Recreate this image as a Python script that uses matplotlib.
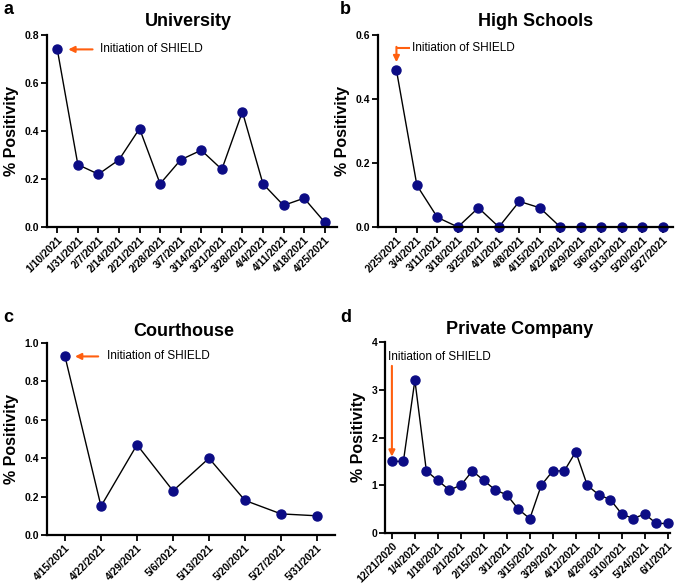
import numpy as np
import matplotlib
matplotlib.use("Agg")
import matplotlib.pyplot as plt

plt.rcParams['font.family'] = ['Liberation Sans', 'DejaVu Sans']

# data
univ_dates = ['1/10/2021', '1/31/2021', '2/7/2021', '2/14/2021', '2/21/2021', '2/28/2021',
              '3/7/2021', '3/14/2021', '3/21/2021', '3/28/2021', '4/4/2021', '4/11/2021',
              '4/18/2021', '4/25/2021']
univ_vals = [0.74, 0.26, 0.22, 0.28, 0.41, 0.18, 0.28, 0.32, 0.24, 0.48, 0.18, 0.09, 0.12, 0.02]

hs_dates = ['2/25/2021', '3/4/2021', '3/11/2021', '3/18/2021', '3/25/2021', '4/1/2021',
            '4/8/2021', '4/15/2021', '4/22/2021', '4/29/2021', '5/6/2021', '5/13/2021',
            '5/20/2021', '5/27/2021']
hs_vals = [0.49, 0.13, 0.03, 0.0, 0.06, 0.0, 0.08, 0.06, 0.0, 0.0, 0.0, 0.0, 0.0, 0.0]

court_dates = ['4/15/2021', '4/22/2021', '4/29/2021', '5/6/2021', '5/13/2021',
               '5/20/2021', '5/27/2021', '5/31/2021']
court_vals = [0.93, 0.15, 0.47, 0.23, 0.40, 0.18, 0.11, 0.10]

priv_labels = ['12/21/2020', '1/4/2021', '1/18/2021', '2/1/2021', '2/15/2021', '3/1/2021',
               '3/15/2021', '3/29/2021', '4/12/2021', '4/26/2021', '5/10/2021', '5/24/2021',
               '6/1/2021']
priv_vals = [1.5, 1.5, 3.2, 1.3, 1.1, 0.9, 1.0, 1.3, 1.1, 0.9, 0.8, 0.5, 0.3,
             1.0, 1.3, 1.3, 1.7, 1.0, 0.8, 0.7, 0.4, 0.3, 0.4, 0.2, 0.2]

W, H = 675, 585
fig = plt.figure(figsize=(W / 100, H / 100), dpi=100)

NAVY = '#0c0c85'
ORANGE = '#ff5f0f'


def make_ax(l, t, r, b):
    # pixel box -> figure fraction
    return fig.add_axes([l / W, 1 - b / H, (r - l) / W, (b - t) / H])


def style(ax, ymax, ystep, xlim, fmt='%.1f'):
    for s in ['top', 'right']:
        ax.spines[s].set_visible(False)
    for s in ['left', 'bottom']:
        ax.spines[s].set_linewidth(1.6)
    ax.set_xlim(*xlim)
    ax.set_ylim(0, ymax)
    ax.set_yticks(np.arange(0, ymax + ystep / 2, ystep))
    ax.yaxis.set_major_formatter(matplotlib.ticker.FormatStrFormatter(fmt))
    ax.tick_params(axis='both', direction='out', length=4, width=1.3, pad=1.5)
    for lab in ax.get_yticklabels():
        lab.set_fontweight('bold')
        lab.set_fontsize(7.5)
    ax.set_ylabel('% Positivity', fontsize=11.5, fontweight='bold', labelpad=4)


def xlabels(ax, pos, labels):
    ax.set_xticks(pos)
    ax.set_xticklabels(labels, rotation=45, ha='right', rotation_mode='anchor',
                       fontsize=7.5, fontweight='bold')


def series(ax, vals):
    ax.plot(np.arange(len(vals)), vals, color='black', lw=1.0, zorder=2,
            marker='o', ms=6.5, mfc=NAVY, mec=NAVY, clip_on=False)


# a - University
ax = make_ax(47, 35, 337, 227)
series(ax, univ_vals)
style(ax, 0.8, 0.2, (-0.5, 13.6))
xlabels(ax, np.arange(len(univ_dates)), univ_dates)
ax.annotate('', xy=(0.4, 0.74), xytext=(1.85, 0.74),
            arrowprops=dict(arrowstyle='-|>', color=ORANGE, lw=1.5, mutation_scale=9))
ax.text(2.1, 0.74, 'Initiation of SHIELD', fontsize=8.5, va='center', ha='left')

# b - High Schools
ax = make_ax(378, 35, 673, 227)
series(ax, hs_vals)
style(ax, 0.6, 0.2, (-0.9, 13.5))
xlabels(ax, np.arange(len(hs_dates)), hs_dates)
ax.plot([0.65, 0.0], [0.56, 0.56], color=ORANGE, lw=1.5, solid_capstyle='butt')
ax.annotate('', xy=(0.0, 0.515), xytext=(0.0, 0.563),
            arrowprops=dict(arrowstyle='-|>', color=ORANGE, lw=1.5, mutation_scale=9,
                            shrinkA=0, shrinkB=0))
ax.text(0.78, 0.56, 'Initiation of SHIELD', fontsize=8.5, va='center', ha='left')

# c - Courthouse
ax = make_ax(47, 343, 335, 535)
series(ax, court_vals)
style(ax, 1.0, 0.2, (-0.5, 7.5))
xlabels(ax, np.arange(len(court_dates)), court_dates)
ax.annotate('', xy=(0.2, 0.93), xytext=(1.0, 0.93),
            arrowprops=dict(arrowstyle='-|>', color=ORANGE, lw=1.5, mutation_scale=9))
ax.text(1.17, 0.93, 'Initiation of SHIELD', fontsize=8.5, va='center', ha='left')

# d - Private Company
ax = make_ax(385, 342, 670, 533)
series(ax, priv_vals)
style(ax, 4, 1, (-0.6, 24.2), fmt='%d')
xlabels(ax, np.arange(0, len(priv_vals), 2), priv_labels)
ax.annotate('', xy=(0.0, 1.6), xytext=(0.0, 3.5),
            arrowprops=dict(arrowstyle='-|>', color=ORANGE, lw=1.5, mutation_scale=9,
                            shrinkA=0, shrinkB=0))
ax.text(-0.3, 3.68, 'Initiation of SHIELD', fontsize=8.5, va='center', ha='left')

# titles
for t, x, y in [('University', 188, 22), ('High Schools', 536, 22),
                ('Courthouse', 184, 331), ('Private Company', 520, 330)]:
    fig.text(x / W, 1 - y / H, t, fontsize=13, fontweight='bold', va='center', ha='center')

# panel letters
for lbl, x, y in [('a', 3, 9), ('b', 340, 9), ('c', 3, 317), ('d', 340, 317)]:
    fig.text(x / W, 1 - y / H, lbl, fontsize=13, fontweight='bold', va='center', ha='left')

fig.savefig('out.png', dpi=100)
